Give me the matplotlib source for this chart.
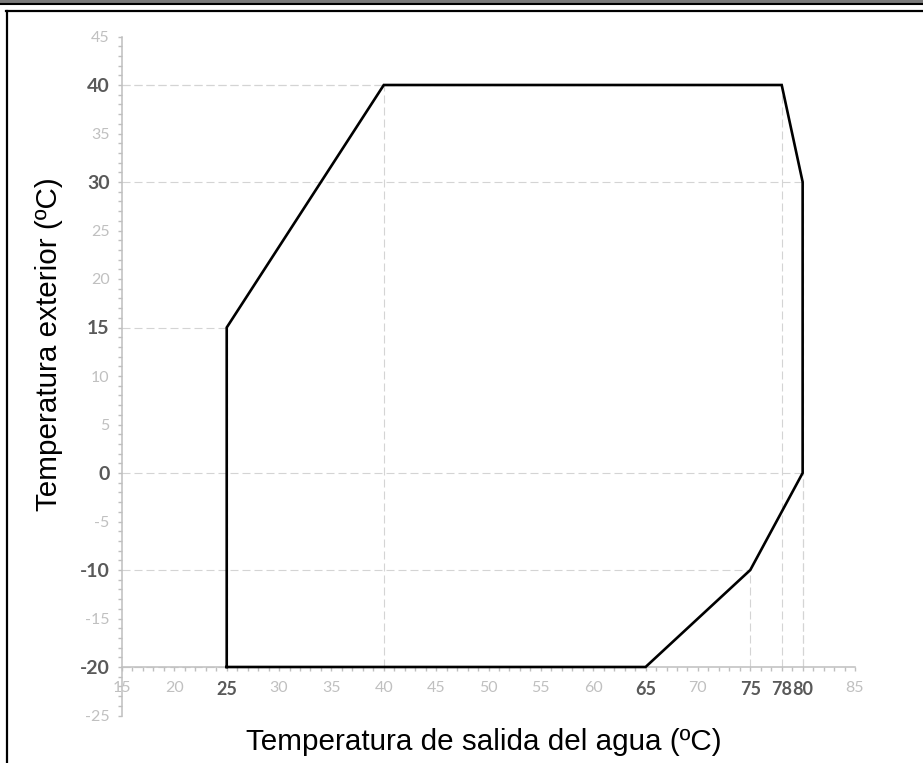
import matplotlib
matplotlib.use("Agg")
import matplotlib.pyplot as plt
from matplotlib.lines import Line2D
from matplotlib.patches import Rectangle

# operating envelope (water outlet temp vs outdoor temp)
water_temp = [25, 25, 40, 78, 80, 80, 75, 65, 25]
outdoor_temp = [-20, 15, 40, 40, 30, 0, -10, -20, -20]

x_ticks = [15, 20, 25, 30, 35, 40, 45, 50, 55, 60, 65, 70, 75, 78, 80, 85]
y_ticks = [-25, -20, -15, -10, -5, 0, 5, 10, 15, 20, 25, 30, 35, 40, 45]
x_strong = [25, 65, 75, 78, 80]
y_strong = [-20, -10, 0, 15, 30, 40]

x_label = "Temperatura de salida del agua (ºC)"
y_label = "Temperatura exterior (ºC)"

W, H = 923, 763
fig = plt.figure(figsize=(W / 100, H / 100), dpi=100)
ax = fig.add_axes([122 / W, 1 - 715.5 / H, 733 / W, 679 / H])

ax.set_xlim(15, 85)
ax.set_ylim(-25, 45)

# dashed guides from each corner back to the axes
guide = dict(color="#d4d4d4", lw=0.8, dashes=(7.2, 3.6), zorder=1)
for xv, yv in zip(water_temp[:-1], outdoor_temp[:-1]):
    ax.plot([15, xv], [yv, yv], **guide)
    ax.plot([xv, xv], [-20, yv], **guide)

ax.plot(water_temp, outdoor_temp, color="black", lw=1.9,
        solid_joinstyle="miter", zorder=3)

for s in ["top", "right"]:
    ax.spines[s].set_visible(False)
ax.spines["bottom"].set_position(("data", -20))
for s in ["left", "bottom"]:
    ax.spines[s].set_color("#bfbfbf")
    ax.spines[s].set_linewidth(1.1)
    ax.spines[s].set_zorder(2)

ax.set_xticks(x_ticks)
ax.set_yticks(y_ticks)
ax.set_xticks(range(15, 86), minor=True)
ax.set_yticks(range(-25, 46), minor=True)
ax.tick_params(which="both", color="#bfbfbf", width=1.0, length=3, direction="out")
ax.tick_params(axis="y", pad=6)
ax.tick_params(axis="x", pad=7)

ax.set_xticklabels([str(v) for v in x_ticks])
ax.set_yticklabels([str(v) for v in y_ticks])
for lab, v in zip(ax.get_xticklabels(), x_ticks):
    strong = v in x_strong
    lab.set_family("Lato")
    lab.set_fontsize(13 if strong else 11.5)
    lab.set_fontweight("bold" if strong else "normal")
    lab.set_color("#595959" if strong else "#c0c0c0")
for lab, v in zip(ax.get_yticklabels(), y_ticks):
    strong = v in y_strong
    lab.set_family("Lato")
    lab.set_fontsize(14 if strong else 11.5)
    lab.set_fontweight("bold" if strong else "normal")
    lab.set_color("#595959" if strong else "#c0c0c0")

fig.text(484 / W, 1 - 742 / H, x_label, ha="center", va="center",
         fontsize=21.3, family="Liberation Sans", color="black")
fig.text(49 / W, 1 - 344 / H, y_label, ha="center", va="center", rotation=90,
         fontsize=21.3, family="Liberation Sans", color="black")

# page frame bits around the chart
fig.patches.append(Rectangle((0, 1 - 3.5 / H), 1, 3.5 / H, transform=fig.transFigure,
                             facecolor="#7a7a7a", edgecolor="none"))
fig.lines.append(Line2D([0, 1], [1 - 4 / H, 1 - 4 / H], transform=fig.transFigure,
                        color="black", lw=1.5))
fig.lines.append(Line2D([6 / W, 1], [1 - 10.5 / H, 1 - 10.5 / H], transform=fig.transFigure,
                        color="black", lw=1.6))
fig.lines.append(Line2D([7 / W, 7 / W], [0, 1 - 10.5 / H], transform=fig.transFigure,
                        color="black", lw=1.6))

fig.savefig("out.png", dpi=100)
